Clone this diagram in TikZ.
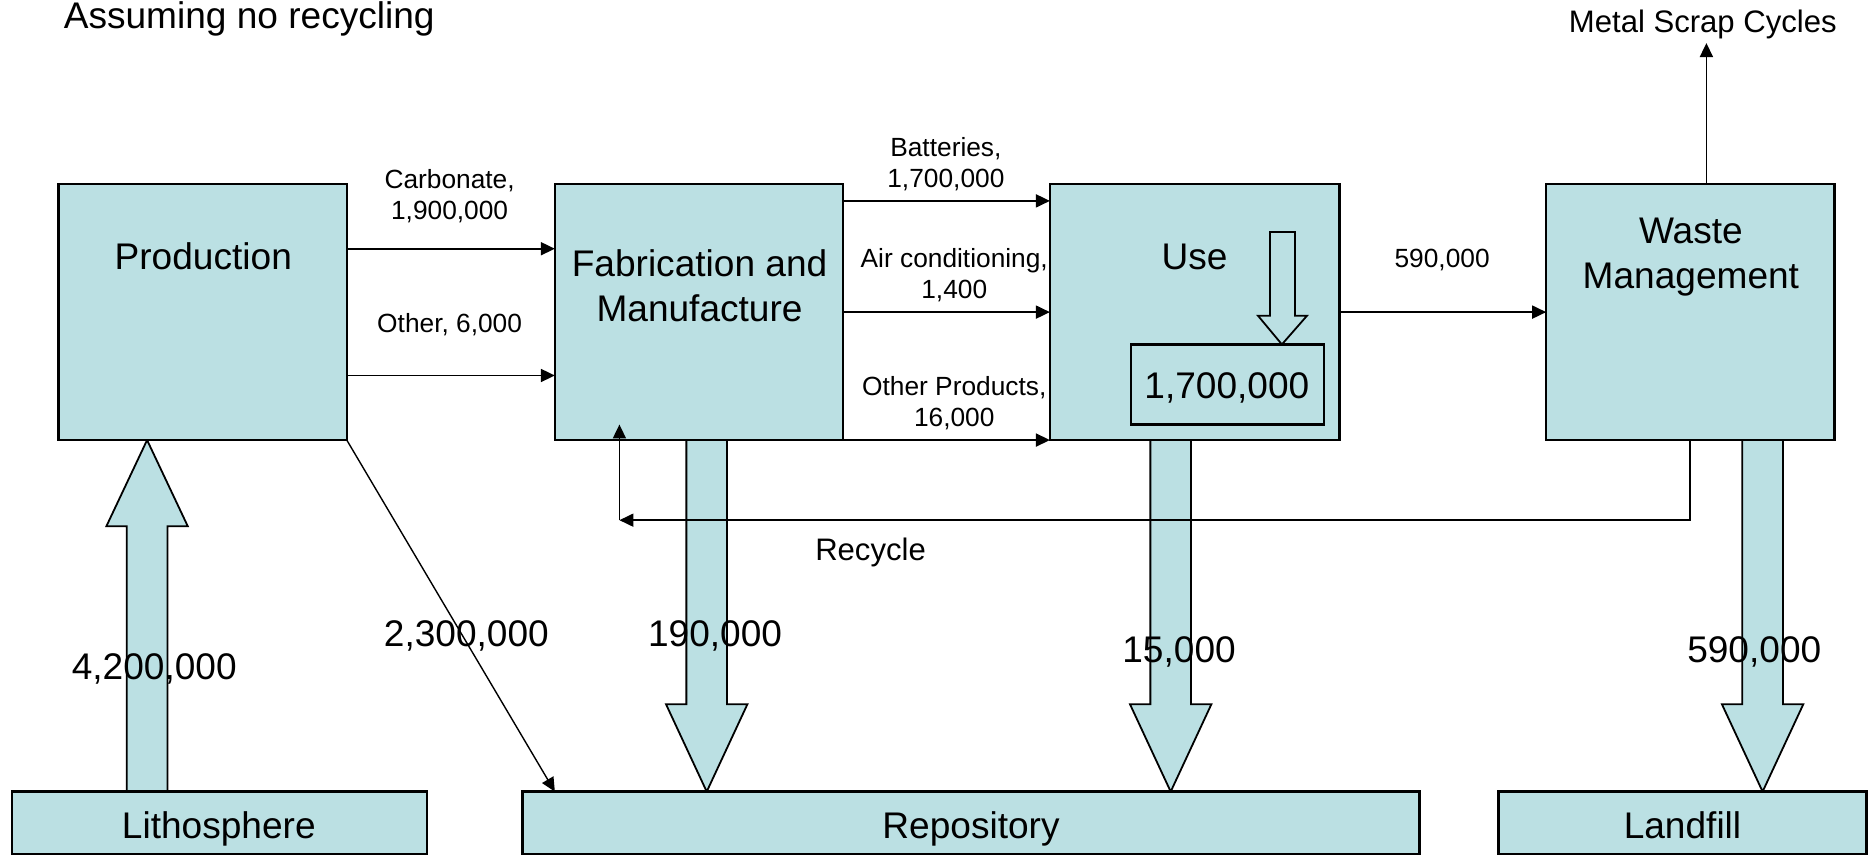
\documentclass[tikz,border=0pt]{standalone}
\usepackage{fontspec}
\setmainfont{Liberation Sans}
\usetikzlibrary{arrows.meta,calc}
\definecolor{boxblue}{RGB}{187,224,227}
\newcommand{\fatdown}[3]{% center x, top y, tip y
  \draw[fat] ({#1-17},#2) -- ({#1-17},{#3-73}) -- ({#1-34},{#3-73}) -- (#1,#3) -- ({#1+34},{#3-73}) -- ({#1+17},{#3-73}) -- ({#1+17},#2) -- cycle;}
\begin{document}
\begin{tikzpicture}[x=0.6pt,y=-0.6pt,
  box/.style={draw=black, line width=1.2pt, fill=boxblue, inner sep=0pt, outer sep=0pt},
  arr/.style={line width=0.9pt, -{Triangle[length=7pt,width=6.5pt]}},
  thinarr/.style={line width=0.7pt, -{Triangle[length=7pt,width=6.5pt]}},
  fat/.style={draw=black, line width=0.9pt, fill=boxblue},
  big/.style={font=\fontsize{18.6}{22.2}\selectfont, inner sep=0pt},
  mid/.style={font=\fontsize{15.6}{18}\selectfont, inner sep=0pt},
  small/.style={font=\fontsize{13.2}{15.6}\selectfont, inner sep=0pt, align=center},
  bigtwo/.style={big, align=center},
]
\useasboundingbox (0,0) rectangle (1568,716);

% fat flow arrows
\draw[fat] (106,662) -- (106,440) -- (89,440) -- (123,368) -- (157,440) -- (140,440) -- (140,662) -- cycle;
\fatdown{591}{368}{662}
\fatdown{979}{368}{662}
\fatdown{1474}{368}{662}

% boxes
\node[box, minimum width=144.6pt, minimum height=128.4pt] (prod) at (169.5,261) {};
\node[box, minimum width=144.6pt, minimum height=128.4pt] (fab) at (584.5,261) {};
\node[box, minimum width=145.2pt, minimum height=128.4pt] (use) at (999,261) {};
\node[box, minimum width=144.6pt, minimum height=128.4pt] (waste) at (1413.5,261) {};
\node[box, minimum width=208.2pt, minimum height=31.2pt] (litho) at (183.5,688) {};
\node[box, minimum width=450pt, minimum height=31.2pt] (rep) at (812,688) {};
\node[box, minimum width=184.8pt, minimum height=31.2pt] (land) at (1407,688) {};
\node[box, minimum width=96.6pt, minimum height=40.2pt] (stock) at (1026.5,321.5) {};

% hollow arrow into stock
\draw[line width=0.9pt] (1062,194) -- (1062,264) -- (1052,264) -- (1072,288) -- (1093,264) -- (1083,264) -- (1083,194) -- cycle;

% connectors
\draw[arr] (prod.east |- 0,208) -- (fab.west |- 0,208);
\draw[arr] (prod.east |- 0,314) -- (fab.west |- 0,314);
\draw[arr] (fab.east |- 0,168) -- (use.west |- 0,168);
\draw[arr] (fab.east) -- (use.west);
\draw[arr] (fab.south east) -- (use.south west);
\draw[arr] (use.east) -- (waste.west);
\coordinate (msc) at (1427,36);
\draw[arr] (waste.north -| msc) -- (msc);
\coordinate (rc) at (518,435);
\coordinate (rtip) at (518,355);
\draw[arr] (waste.south) -- (waste.south |- rc) -- (rc);
\draw[arr] (rc) -- (rtip);
\coordinate (diagend) at ($(rep.north west)+(27,0)$);
\draw[thinarr] (prod.south east) -- (diagend);

% texts
\node[big, anchor=base west] (title) at (53,24) {Assuming no recycling};
\node[big, anchor=base] (tprod) at (170,225) {Production};
\node[bigtwo] (tfab) at (585,239) {Fabrication and\\Manufacture};
\node[big, anchor=base] (tuse) at (999,225) {Use};
\node[bigtwo] (twaste) at (1414,215) {Waste\\Management};
\node[big, anchor=base] (tstock) at (1026,333) {1,700,000};
\node[big, anchor=base] (tlitho) at (183,701) {Lithosphere};
\node[big, anchor=base] (trep) at (812,701) {Repository};
\node[big, anchor=base] (tland) at (1407,701) {Landfill};

\node[small] (lcarb) at (376,164) {Carbonate,\\1,900,000};
\node[small, anchor=base] (loth) at (376,278) {Other, 6,000};
\node[small] (lbat) at (791,137) {Batteries,\\1,700,000};
\node[small] (lair) at (798,230) {Air conditioning,\\1,400};
\node[small] (lop) at (798,337) {Other Products,\\16,000};
\node[small, anchor=base] (l590) at (1206,224) {590,000};

\node[mid, anchor=base] (lmsc) at (1424,27) {Metal Scrap Cycles};
\node[mid, anchor=base] (lrec) at (728,469) {Recycle};

\node[big, anchor=base] (l42) at (129,568) {4,200,000};
\node[big, anchor=base] (l23) at (390,541) {2,300,000};
\node[big, anchor=base] (l19) at (598,541) {190,000};
\node[big, anchor=base] (l15) at (986,554) {15,000};
\node[big, anchor=base] (l59) at (1467,554) {590,000};
\end{tikzpicture}
\end{document}
